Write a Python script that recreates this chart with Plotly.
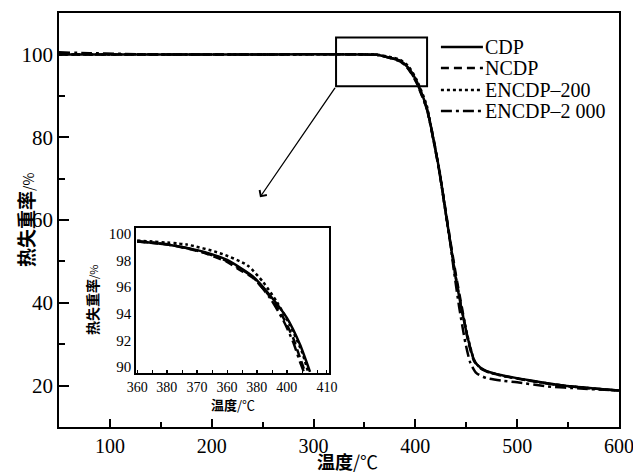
import plotly.graph_objects as go

# ---------------- main chart data (temperature / °C, mass / %) ----------------
temp_cdp = [50, 150, 250, 350, 362, 370, 378, 385, 393, 401, 411, 418, 424, 429, 434, 439, 445, 452, 458, 464, 470, 485, 512, 545, 575, 600]
mass_cdp = [100, 100, 100, 100, 99.9, 99.5, 99.0, 98.5, 96.8, 93.7, 87.3, 79.2, 71.3, 63.1, 55.1, 47.0, 39.0, 31.0, 26.0, 24.3, 23.5, 22.5, 21.3, 20.0, 19.3, 18.8]

temp_ncdp = [50, 150, 250, 350, 362, 370, 378, 385, 393, 401, 411, 418, 424, 429, 434, 440, 446, 452, 458, 464, 470, 485, 512, 545, 575, 600]
mass_ncdp = [100, 100, 100, 100, 99.9, 99.5, 98.9, 98.3, 96.5, 93.2, 87.0, 79.5, 71.0, 63.5, 55.5, 46.5, 38.5, 30.5, 25.8, 24.2, 23.4, 22.4, 21.2, 20.0, 19.3, 18.8]

temp_e200 = [50, 150, 250, 350, 362, 370, 378, 385, 393, 401, 411, 418, 424, 429, 434, 439, 445, 452, 458, 464, 470, 485, 512, 545, 575, 600]
mass_e200 = [100, 100, 100, 100, 99.95, 99.6, 99.2, 98.7, 97.2, 94.0, 87.8, 79.0, 71.5, 63.0, 55.0, 47.2, 39.2, 31.2, 26.0, 24.2, 23.4, 22.4, 21.2, 20.0, 19.3, 18.8]

temp_e2000 = [50, 80, 110, 140, 250, 350, 362, 370, 378, 385, 393, 401, 411, 418, 424, 429, 434, 438, 443, 449, 454, 460, 470, 485, 500, 530, 562, 600]
mass_e2000 = [100.5, 100.3, 100.15, 100, 100, 100, 99.9, 99.5, 99.0, 98.4, 96.6, 93.4, 87.0, 79.0, 71.0, 63.0, 55.0, 47.5, 39.0, 30.5, 25.5, 23.0, 21.8, 21.2, 20.8, 19.8, 19.3, 18.8]

# ---------------- inset data ----------------
in_temp_cdp = [361.8, 370.3, 378.9, 385.1, 391.8, 396.2, 400.6, 404.0, 406.6]
in_mass_cdp = [99.42, 99.17, 98.67, 98.04, 96.8, 95.4, 93.7, 91.7, 89.65]

in_temp_ncdp = [361.8, 370.3, 378.9, 385.1, 388.4, 391.8, 396.2, 399.7, 402.2, 404.0, 405.3]
in_mass_ncdp = [99.42, 99.17, 98.6, 97.9, 97.3, 96.7, 95.3, 93.7, 92.2, 90.7, 89.65]

in_temp_e200 = [361.8, 374.6, 383.3, 390.3, 394.4, 398.0, 401.4, 404.5, 406.1]
in_mass_e200 = [99.5, 99.2, 98.55, 97.66, 96.4, 94.9, 93.16, 91.15, 89.65]

in_temp_e2000 = [361.8, 370.3, 378.9, 385.1, 391.8, 396.2, 399.7, 402.2, 404.0, 405.0]
in_mass_e2000 = [99.45, 99.2, 98.62, 97.95, 96.75, 95.2, 93.5, 91.9, 90.4, 89.65]

# tick labels
main_x_ticks = [100, 200, 300, 400, 500, 600]
main_y_ticks = [20, 40, 60, 80, 100]
inset_y_ticks = [90, 92, 94, 96, 98, 100]
inset_x_tick_pos = [361.8, 369.5, 377.3, 385.1, 392.8, 400.6, 411.0]
inset_x_tick_text = ["360", "380", "370", "360", "380", "400", "410"]

names = ["CDP", "NCDP", "ENCDP\u2013200", "ENCDP\u20132 000"]
dashes = ["solid", "8px,5px", "3px,3px", "11px,4px,3px,4px"]

main_series = [(temp_cdp, mass_cdp), (temp_ncdp, mass_ncdp), (temp_e200, mass_e200), (temp_e2000, mass_e2000)]
inset_series = [(in_temp_cdp, in_mass_cdp), (in_temp_ncdp, in_mass_ncdp), (in_temp_e200, in_mass_e200), (in_temp_e2000, in_mass_e2000)]

SERIF = "Liberation Serif, Times New Roman, serif"
CJK = "Noto Sans CJK SC, sans-serif"

fig = go.Figure()
for (x, y), n, d in zip(main_series, names, dashes):
    fig.add_trace(go.Scatter(x=x, y=y, mode="lines", name=n, showlegend=False,
                             line=dict(color="black", width=2.5, dash=d, shape="spline", smoothing=0.6)))
for (x, y), n, d in zip(inset_series, names, dashes):
    fig.add_trace(go.Scatter(x=x, y=y, mode="lines", name=n, showlegend=False, xaxis="x2", yaxis="y2",
                             line=dict(color="black", width=2.5, dash=d, shape="spline", smoothing=0.6)))

axis_common = dict(showline=True, mirror=True, linecolor="black", linewidth=1.5, showgrid=False,
                   zeroline=False, ticks="inside", tickcolor="black", tickwidth=1.5, automargin=False,
                   ticklabeloverflow="allow")

fig.update_layout(
    width=633, height=475,
    margin=dict(l=59, r=14, t=13, b=48),
    paper_bgcolor="white", plot_bgcolor="white",
    showlegend=False,
    xaxis=dict(domain=[0, 1], range=[50, 600], tickvals=main_x_ticks, ticklen=8,
               minor=dict(dtick=50, tick0=50, ticklen=5, ticks="inside", tickcolor="black", tickwidth=1.5),
               tickfont=dict(family=SERIF, size=20, color="black"), **axis_common),
    yaxis=dict(domain=[0, 1], range=[10, 110], tickvals=main_y_ticks, ticklen=10,
               minor=dict(dtick=10, tick0=10, ticklen=6, ticks="inside", tickcolor="black", tickwidth=1.5),
               tickfont=dict(family=SERIF, size=21, color="black"), **axis_common),
    xaxis2=dict(domain=[0.1375, 0.482], anchor="y2", range=[361.5, 411.5],
                tickvals=inset_x_tick_pos, ticktext=inset_x_tick_text, ticklen=3,
                minor=dict(tick0=361.8, dtick=3.886, ticklen=3, ticks="inside", tickcolor="black", tickwidth=1),
                tickfont=dict(family=SERIF, size=14, color="black"),
                **{**axis_common, "tickwidth": 1}),
    yaxis2=dict(domain=[0.130, 0.481], anchor="x2", range=[89.55, 100.45], tickvals=inset_y_ticks,
                ticklen=0, tickfont=dict(family=SERIF, size=15, color="black"),
                **{**axis_common, "ticks": ""}),
)

# zoom box on main chart
fig.add_shape(type="rect", xref="x", yref="y", x0=322.1, x1=411.5, y0=92.3, y1=104.1,
              line=dict(color="black", width=2))
# arrow from box corner to inset
fig.add_annotation(x=247.4, y=65.5, ax=322.1, ay=92.3, xref="x", yref="y", axref="x", ayref="y",
                   text="", showarrow=True, arrowhead=4, arrowsize=1.3, arrowwidth=1.3, arrowcolor="black")

# manual legend
leg_y = [0.9179, 0.8671, 0.8140, 0.7633]
for n, d, yy in zip(names, dashes, leg_y):
    fig.add_shape(type="line", xref="paper", yref="paper", x0=0.682, x1=0.757, y0=yy, y1=yy,
                  line=dict(color="black", width=2.5, dash=d))
    fig.add_annotation(x=0.757, y=yy, xref="paper", yref="paper", text=n, showarrow=False,
                       xanchor="left", yanchor="middle", font=dict(family=SERIF, size=20, color="black"))

# axis titles
fig.add_annotation(x=-0.0607, y=0.5, xref="paper", yref="paper", showarrow=False, textangle=-90,
                   text='<b>热失重率</b><span style="font-size:14px">/%</span>',
                   font=dict(family=CJK, size=19, color="black"), xanchor="center", yanchor="middle")
fig.add_annotation(x=0.516, y=-0.1155, xref="paper", yref="paper", showarrow=False,
                   text='<b>温度</b>/℃', font=dict(family=CJK, size=18, color="black"),
                   xanchor="center", yanchor="bottom", borderpad=0)
fig.add_annotation(x=0.0589, y=0.3068, xref="paper", yref="paper", showarrow=False, textangle=-90,
                   text='<b>热失重率</b><span style="font-size:11px">/%</span>',
                   font=dict(family=CJK, size=14, color="black"), xanchor="center", yanchor="middle")
fig.add_annotation(x=0.3107, y=0.055, xref="paper", yref="paper", showarrow=False,
                   text='<b>温度</b>/℃', font=dict(family=CJK, size=13, color="black"),
                   xanchor="center", yanchor="middle")

fig.write_html("out.html", config={"displayModeBar": False},
               post_script="document.body.style.margin='0';")
